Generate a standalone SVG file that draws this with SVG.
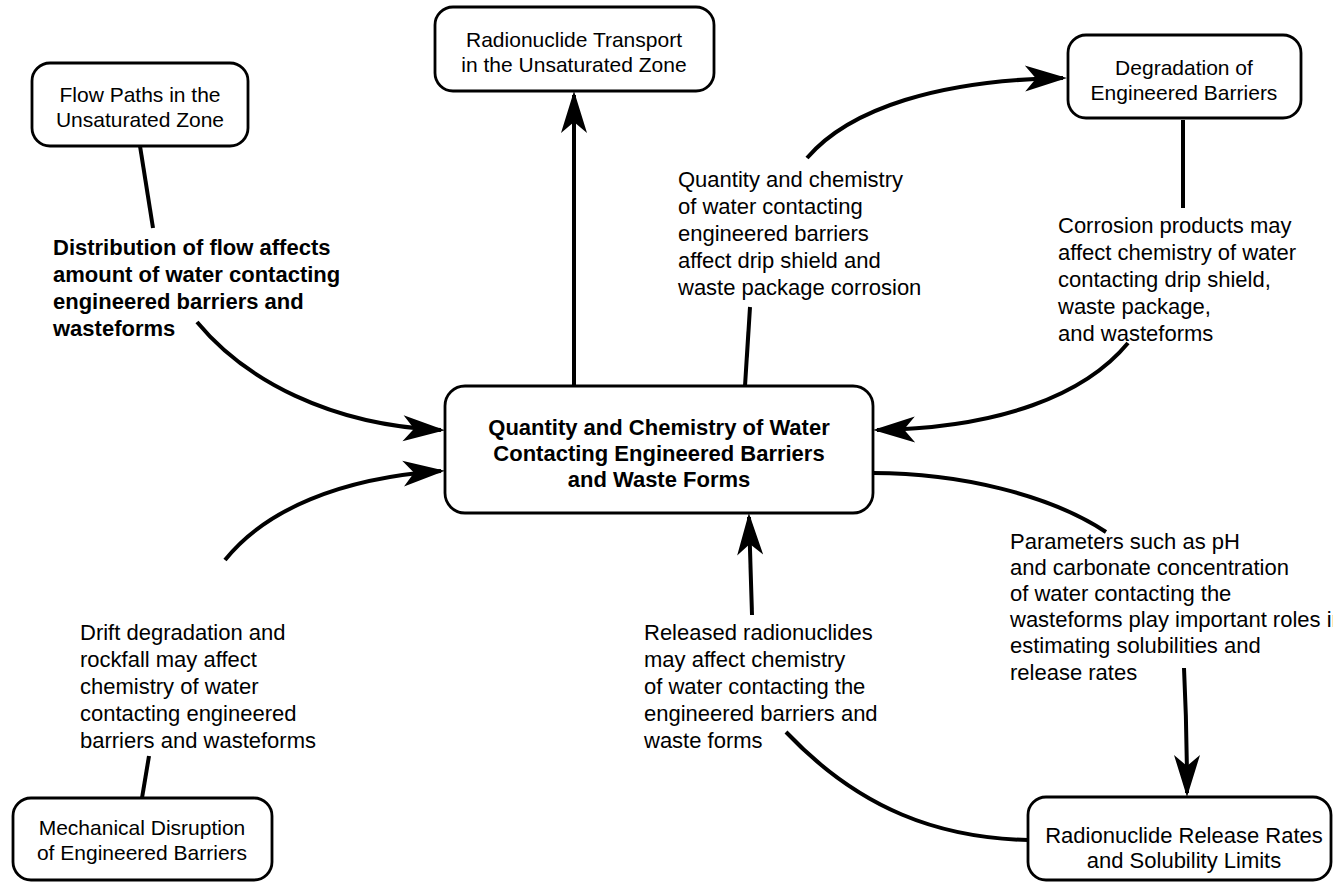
<svg xmlns="http://www.w3.org/2000/svg" width="1333" height="883" viewBox="0 0 1333 883">
  <style>
    .box { fill: #ffffff; stroke: #000000; stroke-width: 2.8; }
    .lbl { font-family: "Liberation Sans", Arial, sans-serif; font-size: 21px; fill: #000000; }
    .note { font-size: 22px; }
    .ctr { text-anchor: middle; }
    .bold { font-weight: bold; }
    .big { font-size: 22px; }
    .link { fill: none; stroke: #000000; stroke-width: 4; stroke-linecap: butt; }
  </style>
  <defs>
    <marker id="head" viewBox="-44 -15 50 30" refX="0" refY="0" markerUnits="userSpaceOnUse" markerWidth="50" markerHeight="30" orient="auto">
      <path d="M4,0 L-38,-13 L-27,0 L-38,13 Z" fill="#000000"/>
    </marker>
  </defs>

  <rect width="1333" height="883" fill="#ffffff"/>

  <!-- connectors -->
  <g id="connectors">
    <path class="link" d="M140,146 Q147,190 153,228"/>
    <path class="link" d="M197,322 C245,380 330,425 441,430" marker-end="url(#head)"/>
    <path class="link" d="M574,386 L574,95" marker-end="url(#head)"/>
    <path class="link" d="M745,386 L750,307"/>
    <path class="link" d="M807,158 C850,108 940,80 1063,78" marker-end="url(#head)"/>
    <path class="link" d="M1183,120 L1183,208"/>
    <path class="link" d="M1128,343 C1085,395 1000,428 877,430" marker-end="url(#head)"/>
    <path class="link" d="M873,473 C960,473 1050,495 1106,532"/>
    <path class="link" d="M1184,668 Q1187,730 1187,793" marker-end="url(#head)"/>
    <path class="link" d="M1028,840 C940,838 860,810 786,732"/>
    <path class="link" d="M752,615 L749,517" marker-end="url(#head)"/>
    <path class="link" d="M142,798 L149,756"/>
    <path class="link" d="M225,560 C265,510 340,478 441,471" marker-end="url(#head)"/>
  </g>

  <!-- connector labels -->
  <g id="label-flow" class="lbl note bold">
    <text x="53" y="255">Distribution of flow affects</text>
    <text x="53" y="282">amount of water contacting</text>
    <text x="53" y="309">engineered barriers and</text>
    <text x="53" y="336">wasteforms</text>
  </g>
  <g id="label-corrosion-drive" class="lbl note">
    <text x="678" y="187">Quantity and chemistry</text>
    <text x="678" y="214">of water contacting</text>
    <text x="678" y="241">engineered barriers</text>
    <text x="678" y="268">affect drip shield and</text>
    <text x="678" y="295">waste package corrosion</text>
  </g>
  <g id="label-products" class="lbl note">
    <text x="1058" y="233">Corrosion products may</text>
    <text x="1058" y="260">affect chemistry of water</text>
    <text x="1058" y="287">contacting drip shield,</text>
    <text x="1058" y="314">waste package,</text>
    <text x="1058" y="341">and wasteforms</text>
  </g>
  <g id="label-drift" class="lbl note">
    <text x="80" y="640">Drift degradation and</text>
    <text x="80" y="667">rockfall may affect</text>
    <text x="80" y="694">chemistry of water</text>
    <text x="80" y="721">contacting engineered</text>
    <text x="80" y="748">barriers and wasteforms</text>
  </g>
  <g id="label-released" class="lbl note">
    <text x="644" y="640">Released radionuclides</text>
    <text x="644" y="667">may affect chemistry</text>
    <text x="644" y="694">of water contacting the</text>
    <text x="644" y="721">engineered barriers and</text>
    <text x="644" y="748">waste forms</text>
  </g>
  <g id="label-parameters" class="lbl note">
    <text x="1010" y="549">Parameters such as pH</text>
    <text x="1010" y="575">and carbonate concentration</text>
    <text x="1010" y="601">of water contacting the</text>
    <text x="1010" y="627">wasteforms play important roles in</text>
    <text x="1010" y="653">estimating solubilities and</text>
    <text x="1010" y="680">release rates</text>
  </g>

  <!-- nodes -->
  <g id="node-flow-paths">
    <rect class="box" x="32" y="63" width="216" height="83" rx="18"/>
    <text class="lbl ctr" x="140" y="102">Flow Paths in the</text>
    <text class="lbl ctr" x="140" y="127">Unsaturated Zone</text>
  </g>
  <g id="node-transport">
    <rect class="box" x="435" y="7" width="279" height="84" rx="18"/>
    <text class="lbl ctr" x="574" y="47">Radionuclide Transport</text>
    <text class="lbl ctr" x="574" y="72">in the Unsaturated Zone</text>
  </g>
  <g id="node-degradation">
    <rect class="box" x="1068" y="35" width="233" height="83" rx="18"/>
    <text class="lbl ctr" x="1184" y="75">Degradation of</text>
    <text class="lbl ctr" x="1184" y="100">Engineered Barriers</text>
  </g>
  <g id="node-water">
    <rect class="box" x="445" y="386" width="428" height="127" rx="20"/>
    <text class="lbl ctr bold big" x="659" y="435">Quantity and Chemistry of Water</text>
    <text class="lbl ctr bold big" x="659" y="461">Contacting Engineered Barriers</text>
    <text class="lbl ctr bold big" x="659" y="487">and Waste Forms</text>
  </g>
  <g id="node-mechanical">
    <rect class="box" x="13" y="798" width="259" height="82" rx="18"/>
    <text class="lbl ctr" x="142" y="835">Mechanical Disruption</text>
    <text class="lbl ctr" x="142" y="860">of Engineered Barriers</text>
  </g>
  <g id="node-release">
    <rect class="box" x="1028" y="797" width="303" height="83" rx="18"/>
    <text class="lbl ctr big" x="1184" y="843">Radionuclide Release Rates</text>
    <text class="lbl ctr big" x="1184" y="868">and Solubility Limits</text>
  </g>
</svg>
